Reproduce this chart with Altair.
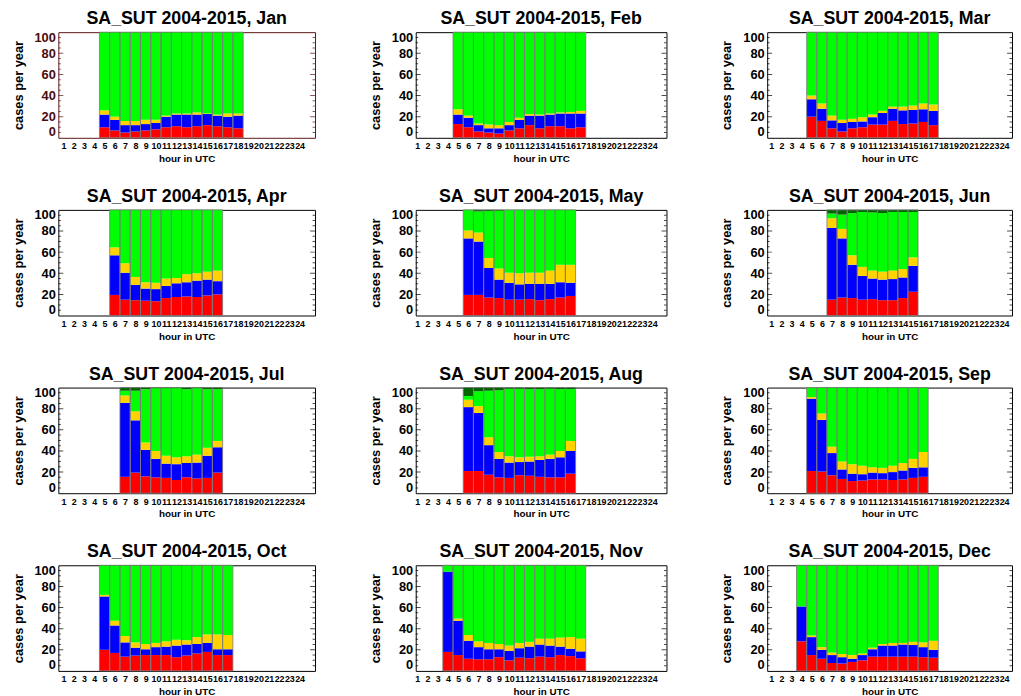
import altair as alt
import pandas as pd

FONT = "Liberation Sans"

months = ["Jan", "Feb", "Mar", "Apr", "May", "Jun", "Jul", "Aug", "Sep", "Oct", "Nov", "Dec"]
first_hour = {"Jan": 5, "Feb": 5, "Mar": 5, "Apr": 6, "May": 6, "Jun": 7,
              "Jul": 7, "Aug": 6, "Sep": 5, "Oct": 5, "Nov": 4, "Dec": 4}

red = {
    "Jan": [10, 7, 5, 6, 7, 8, 10, 11, 10, 11, 12, 11, 10, 9],
    "Feb": [13, 10, 6, 5, 4, 7, 9, 12, 9, 11, 11, 9, 10],
    "Mar": [20, 16, 9, 6, 9, 10, 12.5, 12.5, 16, 13, 13.5, 15, 12],
    "Apr": [19.5, 15, 14.5, 14, 13.5, 16.5, 17.5, 18, 17.5, 19, 20],
    "May": [19.5, 19.5, 17, 16.5, 15, 15, 15.5, 14.5, 15.5, 17, 18.5],
    "Jun": [15, 17, 16.5, 15, 15.5, 14.5, 14.5, 16.5, 22.5],
    "Jul": [15.5, 19.5, 16, 15, 14.5, 12.5, 15, 14, 14.5, 19.5],
    "Aug": [21, 21, 17.5, 15, 14.5, 17, 16.5, 15.5, 15, 15, 18.5],
    "Sep": [21, 20.5, 17, 13.5, 11.5, 12, 13, 13, 12.5, 13, 14.5, 15.5],
    "Oct": [20, 17, 13.5, 14.5, 15, 15, 15, 13, 14.5, 16.5, 18, 15, 15],
    "Nov": [18, 15, 11.5, 11, 11, 13, 10, 12.5, 12, 13.5, 13, 15, 14, 12],
    "Dec": [28, 15, 11.5, 7.5, 7, 8.5, 10, 13.5, 13.5, 13.5, 13.5, 13.5, 13, 12.5],
}
blue = {
    "Jan": [12, 10, 7, 6, 6, 6, 10, 11, 12, 11, 10.5, 10, 10, 12],
    "Feb": [9, 9, 6, 4, 5, 5, 8, 9, 12, 11, 12, 14, 13],
    "Mar": [16.5, 11.5, 7.5, 8, 6, 5.5, 7, 11, 11.5, 13, 13, 12, 13.5],
    "Apr": [37.5, 25.5, 14.5, 11.5, 11.5, 11.5, 13, 13.5, 15.5, 15, 12.5],
    "May": [53.5, 50.5, 28, 17.5, 16, 14.5, 14.5, 15.5, 14.5, 14.5, 12.5],
    "Jun": [68, 56, 31.5, 22.5, 19.5, 19.5, 20, 19.5, 24.5],
    "Jul": [70, 49.5, 25, 17.5, 13.5, 15, 13.5, 15, 21, 24],
    "Aug": [60.5, 55, 28, 17.5, 14.5, 12.5, 13.5, 16, 17.5, 19, 21.5],
    "Sep": [68.5, 49, 21, 9, 7, 6, 6.5, 6, 7.5, 8.5, 9.5, 9],
    "Oct": [50.5, 26, 13.5, 7.5, 5.5, 7.5, 8, 11, 10.5, 9, 8.5, 5.5, 5.5],
    "Nov": [76, 32.5, 17, 11.5, 9.5, 7.5, 9, 9, 11, 11.5, 11, 8, 7, 6.5],
    "Dec": [33, 17, 8.5, 7.5, 6, 3, 5, 7, 10.5, 10.5, 11.5, 11, 9.5, 7.5],
}
gold = {
    "Jan": [4, 3, 4, 4, 4, 3, 1, 1, 1, 2, 0.5, 1, 3, 2],
    "Feb": [5, 2, 1.5, 3.5, 3, 3, 2, 1.5, 1, 1, 1, 1.5, 2.5],
    "Mar": [3.5, 5, 4.5, 3, 3, 4, 2.5, 2, 2, 3.5, 4, 5.5, 6],
    "Apr": [7.5, 9, 7.5, 6, 6, 7, 5, 7.5, 7, 7.5, 10],
    "May": [7.5, 8.5, 9.5, 10.5, 9.5, 10.5, 10.5, 10.5, 12.5, 16.5, 17],
    "Jun": [9, 9, 9, 8.5, 7.5, 7.5, 8, 8, 8],
    "Jul": [7, 8.5, 7, 7.5, 7.5, 6.5, 6.5, 7.5, 7.5, 6],
    "Aug": [7, 6.5, 7.5, 6.5, 6, 4.5, 4.5, 3.5, 4, 6, 9.5],
    "Sep": [1.5, 6, 6, 7.5, 9, 8, 5, 5, 6, 7, 8.5, 14.5],
    "Oct": [1.5, 4.5, 6, 5, 5, 4, 5, 5.5, 4, 6.5, 8, 14, 13.5],
    "Nov": [0, 2, 5.5, 5.5, 6, 5, 5, 5, 4.5, 5.5, 6.5, 8.5, 11, 12],
    "Dec": [0, 1.5, 2.5, 2.5, 3, 3.5, 1.5, 1.5, 1.5, 2.5, 1.5, 3, 4.5, 8.5],
}
green = {
    "Jan": [74, 80, 84, 84, 83, 83, 79, 77, 77, 76, 77, 78, 77, 77],
    "Feb": [73, 79, 86.5, 87.5, 88, 85, 81, 77.5, 78, 77, 76, 75.5, 74.5],
    "Mar": [60, 67.5, 79, 83, 82, 80.5, 78, 74.5, 70.5, 70.5, 69.5, 67.5, 68.5],
    "Apr": [35.5, 50.5, 63.5, 68.5, 69, 65, 64.5, 61, 60, 58.5, 57.5],
    "May": [19.5, 20, 44.5, 55, 59.5, 60, 59.5, 59.5, 57.5, 52, 52],
    "Jun": [4.5, 13.5, 40, 52, 55, 55.5, 55.5, 54, 43],
    "Jul": [4.5, 19.5, 50.5, 59.5, 64, 65.5, 63.5, 63, 55.5, 49],
    "Aug": [3.5, 14, 44, 58.5, 64, 65, 64, 63.5, 62.5, 58.5, 49],
    "Sep": [9, 24.5, 56, 70, 72.5, 74, 75.5, 76, 74, 71.5, 67.5, 61],
    "Oct": [28, 52.5, 67, 73, 74.5, 73.5, 72, 70.5, 71, 68, 65.5, 65.5, 66],
    "Nov": [6, 50.5, 66, 72, 73.5, 74.5, 76, 73.5, 72.5, 69.5, 69.5, 68.5, 68, 69.5],
    "Dec": [39, 66.5, 77.5, 82.5, 84, 85, 83.5, 78, 74.5, 73.5, 73.5, 72.5, 73, 71.5],
}
dark_green = {
    "May": [0, 1.5, 1, 0.5, 0, 0, 0, 0, 0, 0, 0],
    "Jun": [3.5, 4.5, 3, 2, 2.5, 3, 2, 2, 2],
    "Jul": [3, 3, 1.5, 0.5, 0.5, 0.5, 1.5, 0.5, 1.5, 1.5],
    "Aug": [8, 3.5, 3, 2.5, 1, 1, 1.5, 1.5, 1, 1.5, 1.5],
}

hour_ticks = list(range(1, 25))
y_ticks = [0, 20, 40, 60, 80, 100]

cats = ["c1", "c2", "c3", "c4", "c5"]
cat_colors = ["#ff0000", "#0000ff", "#ffd200", "#00ff00", "#006400"]

rows = []
for m in months:
    series = [red[m], blue[m], gold[m], green[m], dark_green.get(m, [0] * len(red[m]))]
    for i in range(len(red[m])):
        h = first_hour[m] + i
        for k, s in enumerate(series):
            rows.append({"month": m, "hour": h, "cat": cats[k], "order": k, "value": s[i]})
df = pd.DataFrame(rows)

# panel x-domains / widths per column (layout)
col_dom = [(0.5, 25.5, 260), (0.85, 25.4, 254), (0.6, 24.78, 248)]
PANEL_H = 107


def panel(m, col):
    lo, hi, w = col_dom[col]
    frame = "#5a1414" if m == "Jan" else "#000000"
    lab_col = "#4a0c0c" if m == "Jan" else "#000000"
    xs = alt.Scale(domain=[lo, hi], nice=False, zero=False)
    ys = alt.Scale(domain=[0, 100], nice=False, zero=False)
    x_axis = alt.Axis(values=hour_ticks, format="d", labelOverlap=False, labelAngle=0,
                      ticks=False, domain=False, grid=False, labelFont=FONT,
                      labelFontSize=9, labelFontWeight="bold", labelPadding=4,
                      labelColor="#000000", titleFont=FONT, titleFontSize=10,
                      titleFontWeight="bold", titlePadding=3, titleColor="#000000",
                      title="hour in UTC")
    y_axis = alt.Axis(values=y_ticks, ticks=False, domain=False, grid=False,
                      labelFont=FONT, labelFontSize=13, labelFontWeight="bold",
                      labelColor=lab_col, labelPadding=3, labelFlush=True,
                      labelFlushOffset=1,
                      titleFont=FONT, titleFontSize=13, titleFontWeight="bold",
                      titlePadding=9, titleColor="#000000", title="cases per year")
    base = alt.Chart(df).transform_filter(alt.datum.month == m)
    bars = base.transform_stack(
        stack="value", groupby=["hour"], sort=[alt.SortField("order", order="ascending")],
        as_=["y0", "y1"]
    ).transform_calculate(
        x0="datum.hour - 0.5", x1="datum.hour + 0.5"
    ).mark_bar(strokeWidth=0).encode(
        x=alt.X("x0:Q", scale=xs, axis=x_axis),
        x2="x1:Q",
        y=alt.Y("y0:Q", scale=ys, axis=y_axis),
        y2="y1:Q",
        color=alt.Color("cat:N", scale=alt.Scale(domain=cats, range=cat_colors), legend=None),
    )
    outline = base.transform_aggregate(
        total="sum(value)", groupby=["hour"]
    ).transform_calculate(
        x0="datum.hour - 0.5", x1="datum.hour + 0.5", y0="0"
    ).mark_bar(fillOpacity=0, stroke="#7a7a7a", strokeWidth=0.8).encode(
        x=alt.X("x0:Q", scale=xs, axis=x_axis), x2="x1:Q",
        y=alt.Y("y0:Q", scale=ys, axis=y_axis), y2="total:Q",
    )
    tick_rows = []
    for v in range(5, 100, 5):
        size = 10 if v % 20 == 0 else 5
        tick_rows.append({"x0": lo, "y0": v, "ts": size})
        tick_rows.append({"x0": hi, "y0": v, "ts": size})
    ticks = alt.Chart(pd.DataFrame(tick_rows)).mark_tick(
        orient="horizontal", clip=True, color=frame, thickness=1
    ).encode(
        x=alt.X("x0:Q", scale=xs, axis=x_axis), y=alt.Y("y0:Q", scale=ys, axis=y_axis),
        size=alt.Size("ts:Q", scale=None, legend=None),
    )
    return alt.layer(bars, outline, ticks).properties(
        width=w, height=PANEL_H,
        title=alt.TitleParams(f"SA_SUT 2004-2015, {m}", font=FONT, fontSize=18,
                              fontWeight="bold", color="#000000", offset=3, anchor="middle"),
        view=alt.ViewBackground(stroke=frame, strokeWidth=1),
    )


grid_rows = []
for r in range(4):
    grid_rows.append(alt.hconcat(*[panel(months[r * 3 + c], c) for c in range(3)], spacing=53))

chart = alt.vconcat(*grid_rows, spacing=23).properties(
    padding={"left": 3, "top": -3, "right": 0, "bottom": 0}
).configure_view(stroke="#000000")

chart.save("out.html", embed_options={"renderer": "svg", "actions": False})
